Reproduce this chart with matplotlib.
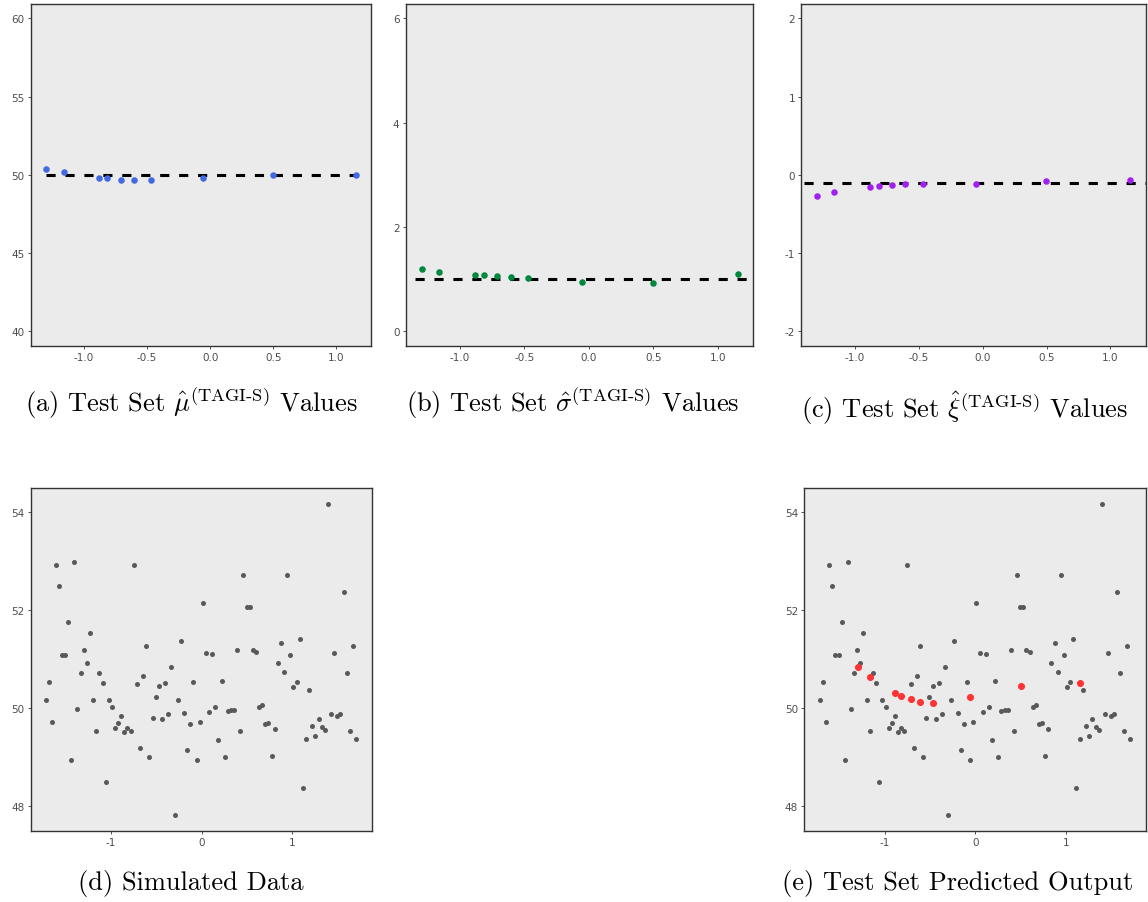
import numpy as np
import matplotlib
matplotlib.use("Agg")
import matplotlib.pyplot as plt

plt.rcParams['mathtext.fontset'] = 'cm'

# test set inputs and TAGI-S estimates
x_test = [-1.297, -1.160, -0.884, -0.815, -0.709, -0.606, -0.468, -0.054, 0.498, 1.153]
mu_hat = [50.40, 50.21, 49.83, 49.77, 49.70, 49.64, 49.64, 49.79, 50.02, 49.96]
sigma_hat = [1.195, 1.131, 1.086, 1.080, 1.061, 1.048, 1.022, 0.952, 0.920, 1.093]
xi_hat = [-0.268, -0.222, -0.149, -0.141, -0.124, -0.111, -0.115, -0.115, -0.081, -0.072]
y_pred = [50.83, 50.64, 50.30, 50.25, 50.18, 50.12, 50.10, 50.23, 50.46, 50.51]

# true parameters
mu_true = 50
sigma_true = 1
xi_true = -0.1

# simulated data
x_sim = [-1.713, -1.680, -1.647, -1.610, -1.577, -1.544, -1.507, -1.474, -1.441, -1.404,
         -1.371, -1.335, -1.301, -1.265, -1.232, -1.195, -1.162, -1.129, -1.092, -1.059,
         -1.026, -0.989, -0.956, -0.919, -0.886, -0.853, -0.820, -0.783, -0.750, -0.713,
         -0.680, -0.643, -0.610, -0.577, -0.540, -0.507, -0.471, -0.438, -0.401, -0.368,
         -0.335, -0.298, -0.265, -0.232, -0.195, -0.162, -0.125, -0.092, -0.055, -0.022,
         0.011, 0.048, 0.081, 0.118, 0.151, 0.184, 0.221, 0.254, 0.287, 0.324,
         0.357, 0.390, 0.426, 0.460, 0.496, 0.529, 0.563, 0.599, 0.632, 0.665,
         0.702, 0.735, 0.772, 0.805, 0.838, 0.875, 0.908, 0.945, 0.978, 1.011,
         1.048, 1.081, 1.114, 1.151, 1.184, 1.221, 1.254, 1.290, 1.324, 1.360,
         1.393, 1.426, 1.463, 1.496, 1.529, 1.566, 1.599, 1.636, 1.669, 1.706]
y_sim = [50.17, 50.54, 49.71, 52.92, 52.50, 51.09, 51.09, 51.76, 48.94, 52.98,
         49.99, 50.71, 51.19, 50.93, 51.54, 50.16, 49.54, 50.71, 50.52, 48.49,
         50.17, 50.03, 49.59, 49.69, 49.84, 49.51, 49.59, 49.54, 52.92, 50.50,
         49.19, 50.66, 51.26, 49.00, 49.79, 50.23, 50.45, 49.77, 50.52, 49.88,
         50.83, 47.81, 50.17, 51.38, 49.90, 49.15, 49.68, 50.54, 48.94, 49.72,
         52.14, 51.12, 49.93, 51.10, 50.03, 49.34, 50.56, 49.00, 49.95, 49.97,
         49.97, 51.18, 49.54, 52.72, 52.07, 52.07, 51.19, 51.15, 50.02, 50.07,
         49.68, 49.69, 49.02, 49.57, 50.92, 51.34, 50.73, 52.71, 51.08, 50.43,
         50.54, 51.42, 48.37, 49.36, 50.37, 49.63, 49.44, 49.78, 49.61, 49.56,
         54.17, 49.89, 51.13, 49.83, 49.88, 52.37, 50.71, 49.54, 51.26, 49.36]

W, H = 1148, 903
fig = plt.figure(figsize=(W / 100, H / 100), dpi=100)


def box(l, r, t, b):
    return [l / W, 1 - b / H, (r - l) / W, (b - t) / H]


def style(ax):
    ax.set_facecolor('#EBEBEB')
    for s in ax.spines.values():
        s.set_color('#333333')
        s.set_linewidth(1.0)
    ax.tick_params(length=2.5, width=0.6, color='#333333', labelsize=7.5,
                   labelcolor='#4D4D4D', pad=2)


def lims(v):
    lo, hi = min(v), max(v)
    r = hi - lo
    return lo - 0.05 * r, hi + 0.05 * r


# top row
top = [
    (box(31, 371, 4.7, 347), mu_hat, mu_true, '#4169E1', (39.06, 60.94), [40, 45, 50, 55, 60], min(x_test), max(x_test)),
    (box(405.7, 753.3, 4.7, 347), sigma_hat, sigma_true, '#00873E', (-0.28, 6.28), [0, 2, 4, 6], -1.344, 1.4),
    (box(801.3, 1145.7, 4.7, 347), xi_hat, xi_true, '#A020F0', (-2.187, 2.187), [-2, -1, 0, 1, 2], -1.397, 1.4),
]
for rect, vals, true, col, ylim, yt, x0, x1 in top:
    ax = fig.add_axes(rect)
    style(ax)
    ax.set_xlim(lims(x_test))
    ax.set_ylim(ylim)
    ax.plot([x0, x1], [true, true], color='black', lw=2.2, ls=(0, (3, 3.2)), zorder=2)
    ax.scatter(x_test, vals, s=22, color=col, zorder=3, linewidths=0)
    ax.set_xticks([-1.0, -0.5, 0.0, 0.5, 1.0])
    ax.set_xticklabels(['-1.0', '-0.5', '0.0', '0.5', '1.0'])
    ax.set_yticks(yt)
    ax.set_yticklabels([str(v) for v in yt])

# bottom row
for rect, red in [(box(31, 371.7, 489.3, 832), False), (box(804.3, 1145.7, 489.3, 832), True)]:
    ax = fig.add_axes(rect)
    style(ax)
    ax.scatter(x_sim, y_sim, s=13, color='#595959', linewidths=0, zorder=2)
    if red:
        ax.scatter(x_test, y_pred, s=26, color='#FF3333', linewidths=0, zorder=3)
    ax.set_xlim(lims(x_sim))
    ax.set_ylim(lims(y_sim))
    ax.set_xticks([-1, 0, 1])
    ax.set_xticklabels(['-1', '0', '1'])
    ax.set_yticks([48, 50, 52, 54])
    ax.set_yticklabels(['48', '50', '52', '54'])

caps = [
    (191, 403, r'(a) Test Set $\hat{\mu}^{(\mathrm{TAGI\text{-}S})}$ Values'),
    (573, 403, r'(b) Test Set $\hat{\sigma}^{(\mathrm{TAGI\text{-}S})}$ Values'),
    (965, 408, r'(c) Test Set $\hat{\xi}^{(\mathrm{TAGI\text{-}S})}$ Values'),
    (191, 884, '(d) Simulated Data'),
    (958, 884, '(e) Test Set Predicted Output'),
]
for cx, cy, txt in caps:
    fig.text(cx / W, 1 - cy / H, txt, ha='center', va='center', fontsize=19,
             family='cmr10')

fig.savefig('out.png', dpi=100)
